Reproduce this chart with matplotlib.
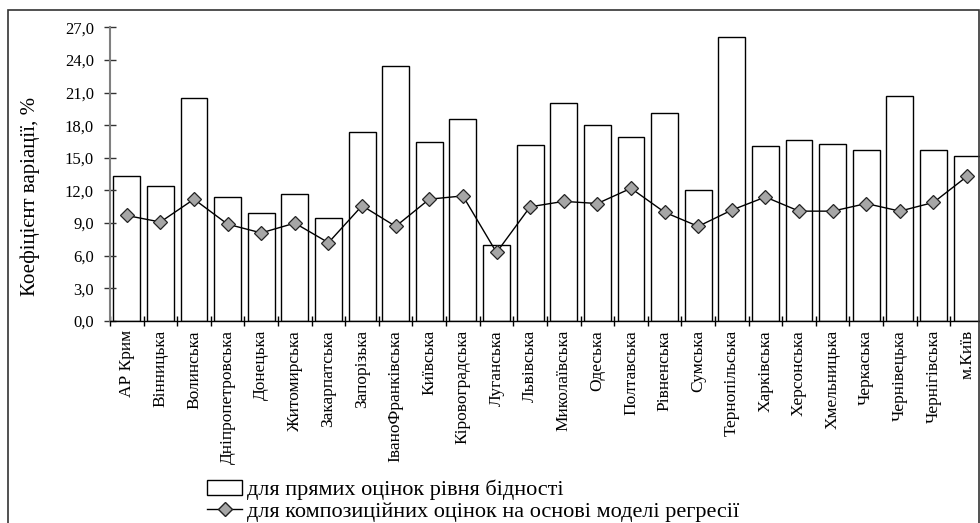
import matplotlib
matplotlib.use('Agg')
import matplotlib.pyplot as plt
from matplotlib.patches import Rectangle, Patch
from matplotlib.lines import Line2D
from matplotlib.ticker import FuncFormatter, FixedLocator
import numpy as np

# regions of Ukraine
regions = ['АР Крим', 'Вінницька', 'Волинська', 'Дніпропетровська', 'Донецька',
           'Житомирська', 'Закарпатська', 'Запорізька', 'ІваноФранківська', 'Київська',
           'Кіровоградська', 'Луганська', 'Львівська', 'Миколаївська', 'Одеська',
           'Полтавська', 'Рівненська', 'Сумська', 'Тернопільська', 'Харківська',
           'Херсонська', 'Хмельницька', 'Черкаська', 'Чернівецька', 'Чернігівська',
           'м.Київ']

# coefficient of variation, %
direct = [13.3, 12.4, 20.5, 11.4, 9.9, 11.7, 9.5, 17.4, 23.4, 16.5,
          18.6, 7.0, 16.2, 20.0, 18.0, 16.9, 19.1, 12.0, 26.1, 16.1,
          16.6, 16.3, 15.7, 20.7, 15.7, 15.2]
composite = [9.7, 9.1, 11.2, 8.9, 8.1, 9.0, 7.2, 10.6, 8.7, 11.2,
             11.5, 6.3, 10.5, 11.0, 10.8, 12.2, 10.0, 8.7, 10.2, 11.4,
             10.1, 10.1, 10.8, 10.1, 10.9, 13.3]

label_direct = 'для прямих оцінок рівня бідності'
label_comp = 'для композиційних оцінок на основі моделі регресії'

plt.rcParams['font.family'] = ['Liberation Serif', 'DejaVu Serif']

fig = plt.figure(figsize=(9.8, 5.23), dpi=100)
ax = fig.add_axes([0.1122, 0.3862, 0.8918, 0.5616])

n = len(regions)
x = np.arange(n)
ax.bar(x, direct, width=0.8, color='white', edgecolor='black', linewidth=1.0)
ax.plot(x, composite, color='black', linewidth=1.0, marker='D', markersize=7.5,
        markerfacecolor='#a6a6a6', markeredgecolor='#222222', markeredgewidth=0.9)

ax.set_xlim(-0.5, n - 0.5)
ax.set_ylim(0, 27)
ax.set_yticks(np.arange(0, 27.1, 3))
ax.yaxis.set_major_formatter(FuncFormatter(lambda v, p: ('%.1f' % v).replace('.', ',')))
ax.tick_params(axis='y', direction='inout', length=9, width=1, labelsize=12, pad=7,
               color='#333333')

ax.set_xticks(x)
ax.set_xticklabels(regions, rotation=90, fontsize=12.5, va='top')
ax.tick_params(axis='x', which='major', length=0, pad=6.5)
ax.xaxis.set_minor_locator(FixedLocator(np.arange(-0.5, n, 1)))
ax.tick_params(axis='x', which='minor', direction='inout', length=7, width=1)

ax.spines['top'].set_visible(False)
ax.spines['right'].set_visible(False)
ax.spines['left'].set_color('#808080')
ax.spines['left'].set_linewidth(1.5)
ax.spines['bottom'].set_color('black')
ax.spines['bottom'].set_linewidth(1.0)

ax.set_ylabel('Коефіцієнт варіації, %', fontsize=15)
ax.yaxis.set_label_coords(-0.080, 0.425)

handles = [Patch(facecolor='white', edgecolor='black', linewidth=1.0),
           Line2D([], [], color='black', linewidth=1.0, marker='D', markersize=7.5,
                  markerfacecolor='#a6a6a6', markeredgecolor='#222222')]
fig.legend(handles, [label_direct, label_comp], loc='upper left',
           bbox_to_anchor=(0.211, 0.083), frameon=False, fontsize=16,
           handlelength=1.6, handletextpad=0.2, labelspacing=0.05,
           borderaxespad=0, borderpad=0)

# outer frame
fig.patches.append(Rectangle((0.0085, -0.1), 0.9905, 1.08, transform=fig.transFigure,
                             fill=False, edgecolor='#333333', linewidth=1.2))

fig.savefig('out.png', dpi=100)
